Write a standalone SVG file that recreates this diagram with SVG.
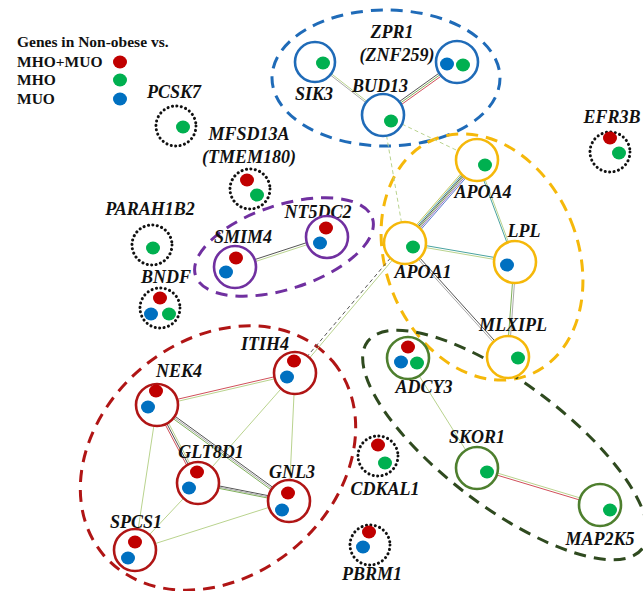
<svg xmlns="http://www.w3.org/2000/svg" width="643" height="591" viewBox="0 0 643 591">
<style>
.lbl{font-family:"Liberation Serif","Times New Roman",serif;font-weight:bold;font-style:italic;font-size:18px;fill:#111;text-anchor:middle}
.leg{font-family:"Liberation Serif","Times New Roman",serif;font-weight:bold;font-size:15.5px;fill:#111}
.r{fill:#c00000}.g{fill:#00b050}.b{fill:#0070c0}
.dot{fill:#fff;stroke:#111;stroke-width:3;stroke-dasharray:0.1 4.4;stroke-linecap:round}
.nb{fill:#fff;stroke:#1f6bb8;stroke-width:2.6}
.ny{fill:#fff;stroke:#f5b80a;stroke-width:2.6}
.np{fill:#fff;stroke:#7030a0;stroke-width:2.6}
.nr{fill:#fff;stroke:#b01515;stroke-width:2.6}
.ng{fill:#fff;stroke:#4e7f2e;stroke-width:2.6}
.cl{fill:none;stroke-width:3;stroke-dasharray:12 8}
.e{stroke-width:1;fill:none}
.k{stroke:#555}.gr{stroke:#aaa}.lg{stroke:#b9d38e}.gn{stroke:#7fb05a}.rd{stroke:#d0505a}.tl{stroke:#4aa3a0}.bl{stroke:#5b7fd0}.pu{stroke:#9a6fc0}.yl{stroke:#c8c860}
.ds{stroke-dasharray:4 3}
</style>

<g id="legend">
<text class="leg" x="17" y="47">Genes in Non-obese vs.</text>
<text class="leg" x="17" y="67">MHO+MUO</text>
<text class="leg" x="17" y="85">MHO</text>
<text class="leg" x="17" y="104">MUO</text>
<ellipse class="r" cx="120" cy="62" rx="7" ry="6.5"/>
<ellipse class="g" cx="120" cy="80" rx="7" ry="6.5"/>
<ellipse class="b" cx="120" cy="99" rx="7" ry="6.5"/>
</g>

<g id="clusters">
<ellipse class="cl" cx="386" cy="78" rx="114" ry="68" stroke="#1f6bb8"/>
<ellipse class="cl" cx="284" cy="247" rx="93" ry="42" transform="rotate(-18 284 247)" stroke="#7030a0"/>
<ellipse class="cl" cx="482" cy="257" rx="96" ry="127" transform="rotate(-22 482 257)" stroke="#f5b80a"/>
<ellipse class="cl" cx="218" cy="458" rx="150" ry="118" transform="rotate(-40 218 458)" stroke="#b01515"/>
<ellipse class="cl" cx="505" cy="445" rx="172" ry="62" transform="rotate(37 505 445)" stroke="#2f4a1f"/>
</g>

<g id="connectors">
<!-- SIK3-BUD13 -->
<line class="e gr" x1="314.5" y1="62.6" x2="382.5" y2="115.6"/>
<line class="e lg" x1="315.5" y1="61.4" x2="383.5" y2="114.4"/>
<!-- ZPR1-BUD13 -->
<line class="e k" x1="456" y1="61" x2="382" y2="114"/>
<line class="e gn" x1="457" y1="62.5" x2="383" y2="115.5"/>
<line class="e rd" x1="458" y1="64" x2="384" y2="117"/>
<!-- BUD13-APOA4, BUD13-APOA1 dashed -->
<line class="e lg ds" x1="383" y1="115" x2="477" y2="160"/>
<line class="e lg ds" x1="383" y1="115" x2="405" y2="243"/>
<!-- APOA4-APOA1 bundle -->
<line class="e bl" x1="479.5" y1="162" x2="407.5" y2="245"/>
<line class="e pu" x1="478.5" y1="161" x2="406.5" y2="244"/>
<line class="e gn" x1="477.5" y1="160.3" x2="405.5" y2="243.3"/>
<line class="e k" x1="476.5" y1="159.7" x2="404.5" y2="242.7"/>
<line class="e tl" x1="475.5" y1="159" x2="403.5" y2="242"/>
<line class="e yl" x1="474.5" y1="158" x2="402.5" y2="241"/>
<!-- APOA4-LPL -->
<line class="e tl" x1="476.3" y1="160.3" x2="514.3" y2="262.3"/>
<line class="e lg" x1="477.7" y1="159.7" x2="515.7" y2="261.7"/>
<!-- APOA1-LPL -->
<line class="e tl" x1="405" y1="242" x2="515" y2="261"/>
<line class="e lg" x1="405" y1="244" x2="515" y2="263"/>
<!-- LPL-MLXIPL -->
<line class="e gn" x1="514" y1="262" x2="507" y2="357"/>
<line class="e gr" x1="516" y1="262" x2="509" y2="357"/>
<!-- APOA1-MLXIPL -->
<line class="e k" x1="405.7" y1="242.3" x2="508.7" y2="356.3"/>
<line class="e gr" x1="404.3" y1="243.7" x2="507.3" y2="357.7"/>
<!-- APOA1-ITIH4 dashed -->
<line class="e k ds" x1="404" y1="242" x2="294" y2="372"/>
<line class="e lg" x1="406" y1="244" x2="296" y2="374"/>
<!-- SMIM4-NT5DC2 -->
<line class="e k" x1="235" y1="266" x2="327" y2="236"/>
<line class="e lg" x1="235.6" y1="268" x2="327.6" y2="238"/>
<!-- NEK4-ITIH4 -->
<line class="e rd" x1="157" y1="404" x2="295" y2="372"/>
<line class="e lg" x1="157.5" y1="406" x2="295.5" y2="374"/>
<!-- NEK4-GLT8D1 -->
<line class="e rd" x1="155.5" y1="406" x2="196.5" y2="484"/>
<line class="e k" x1="157" y1="405" x2="198" y2="483"/>
<line class="e lg" x1="158.5" y1="404" x2="199.5" y2="482"/>
<!-- NEK4-GNL3 -->
<line class="e k" x1="157.9" y1="403.8" x2="289.9" y2="499.8"/>
<line class="e gr" x1="157" y1="405" x2="289" y2="501"/>
<line class="e gn" x1="156.1" y1="406.2" x2="288.1" y2="502.2"/>
<!-- NEK4-SPCS1 -->
<line class="e lg" x1="157" y1="405" x2="135" y2="550"/>
<!-- ITIH4-GLT8D1, ITIH4-GNL3 -->
<line class="e lg" x1="295" y1="373" x2="198" y2="483"/>
<line class="e lg" x1="295" y1="373" x2="289" y2="501"/>
<!-- GLT8D1-GNL3 -->
<line class="e k" x1="198.2" y1="481.8" x2="289.2" y2="499.8"/>
<line class="e gr" x1="198" y1="483" x2="289" y2="501"/>
<line class="e gn" x1="197.8" y1="484.2" x2="288.8" y2="502.2"/>
<!-- GLT8D1-SPCS1, SPCS1-GNL3 -->
<line class="e lg" x1="198" y1="483" x2="135" y2="550"/>
<line class="e lg" x1="135" y1="550" x2="289" y2="501"/>
<!-- ADCY3-SKOR1 -->
<line class="e lg" x1="408" y1="358" x2="477" y2="468"/>
<!-- SKOR1-MAP2K5 -->
<line class="e lg" x1="477.3" y1="467" x2="600.3" y2="504"/>
<line class="e rd" x1="476.7" y1="469" x2="599.7" y2="506"/>
</g>

<g id="PCSK7"><text class="lbl" x="174" y="98">PCSK7</text><circle class="dot" cx="176" cy="126" r="20"/><ellipse class="g" cx="183" cy="127" rx="7" ry="6.5"/></g>
<g id="MFSD13A"><text class="lbl" x="249" y="140">MFSD13A</text><text class="lbl" x="249" y="163">(TMEM180)</text><circle class="dot" cx="250" cy="189" r="20"/><ellipse class="r" cx="247" cy="180" rx="7" ry="6.5"/><ellipse class="g" cx="257" cy="195" rx="7" ry="6.5"/></g>
<g id="PARAH1B2"><text class="lbl" x="150" y="215">PARAH1B2</text><circle class="dot" cx="152" cy="245" r="20"/><ellipse class="g" cx="153" cy="248" rx="7" ry="6.5"/></g>
<g id="BNDF"><text class="lbl" x="166" y="283">BNDF</text><circle class="dot" cx="160" cy="308" r="20"/><ellipse class="r" cx="160" cy="298" rx="7" ry="6.5"/><ellipse class="b" cx="151" cy="314" rx="7" ry="6.5"/><ellipse class="g" cx="169" cy="314" rx="7" ry="6.5"/></g>
<g id="EFR3B"><text class="lbl" x="612" y="123">EFR3B</text><circle class="dot" cx="610" cy="152" r="20"/><ellipse class="r" cx="610" cy="138" rx="7" ry="6.5"/><ellipse class="g" cx="619" cy="153" rx="7" ry="6.5"/></g>
<g id="CDKAL1"><text class="lbl" x="385" y="495">CDKAL1</text><circle class="dot" cx="378" cy="456" r="20"/><ellipse class="r" cx="378" cy="445" rx="7" ry="6.5"/><ellipse class="g" cx="385" cy="463" rx="7" ry="6.5"/></g>
<g id="PBRM1"><text class="lbl" x="372" y="580">PBRM1</text><circle class="dot" cx="370" cy="545" r="20"/><ellipse class="r" cx="369" cy="532" rx="7" ry="6.5"/><ellipse class="b" cx="363" cy="547" rx="7" ry="6.5"/></g>

<g id="SIK3"><circle class="nb" cx="315" cy="62" r="20"/><ellipse class="g" cx="323" cy="63" rx="7" ry="6.5"/><text class="lbl" x="314" y="100">SIK3</text></g>
<g id="ZPR1"><text class="lbl" x="392" y="38">ZPR1</text><text class="lbl" x="397" y="61">(ZNF259)</text><circle class="nb" cx="457" cy="62" r="21"/><ellipse class="b" cx="447" cy="64" rx="7" ry="6.5"/><ellipse class="g" cx="463" cy="65" rx="7" ry="6.5"/></g>
<g id="BUD13"><text class="lbl" x="380" y="92">BUD13</text><circle class="nb" cx="383" cy="115" r="21"/><ellipse class="g" cx="391" cy="121" rx="7" ry="6.5"/></g>

<g id="SMIM4"><text class="lbl" x="243" y="243">SMIM4</text><circle class="np" cx="235" cy="267" r="21"/><ellipse class="r" cx="236" cy="258" rx="7" ry="6.5"/><ellipse class="b" cx="226" cy="272" rx="7" ry="6.5"/></g>
<g id="NT5DC2"><text class="lbl" x="318" y="218">NT5DC2</text><circle class="np" cx="327" cy="237" r="21"/><ellipse class="r" cx="326" cy="228" rx="7" ry="6.5"/><ellipse class="b" cx="320" cy="243" rx="7" ry="6.5"/></g>

<g id="APOA4"><circle class="ny" cx="477" cy="160" r="21"/><ellipse class="g" cx="485" cy="165" rx="7" ry="6.5"/><text class="lbl" x="483" y="198">APOA4</text></g>
<g id="APOA1"><circle class="ny" cx="405" cy="243" r="21"/><ellipse class="g" cx="413" cy="247" rx="7" ry="6.5"/><text class="lbl" x="423" y="278">APOA1</text></g>
<g id="LPL"><text class="lbl" x="524" y="237">LPL</text><circle class="ny" cx="515" cy="262" r="21"/><ellipse class="b" cx="507" cy="265" rx="7" ry="6.5"/></g>
<g id="MLXIPL"><text class="lbl" x="513" y="331">MLXIPL</text><circle class="ny" cx="508" cy="357" r="21"/><ellipse class="g" cx="518" cy="358" rx="7" ry="6.5"/></g>

<g id="ITIH4"><text class="lbl" x="265" y="350">ITIH4</text><circle class="nr" cx="295" cy="373" r="21"/><ellipse class="r" cx="294" cy="361" rx="7" ry="6.5"/><ellipse class="b" cx="287" cy="377" rx="7" ry="6.5"/></g>
<g id="NEK4"><text class="lbl" x="179" y="377">NEK4</text><circle class="nr" cx="157" cy="405" r="21"/><ellipse class="r" cx="156" cy="391" rx="7" ry="6.5"/><ellipse class="b" cx="148" cy="407" rx="7" ry="6.5"/></g>
<g id="GLT8D1"><text class="lbl" x="211" y="458">GLT8D1</text><circle class="nr" cx="198" cy="483" r="21"/><ellipse class="r" cx="197" cy="472" rx="7" ry="6.5"/><ellipse class="b" cx="189" cy="488" rx="7" ry="6.5"/></g>
<g id="GNL3"><text class="lbl" x="292" y="478">GNL3</text><circle class="nr" cx="289" cy="501" r="21"/><ellipse class="r" cx="288" cy="493" rx="7" ry="6.5"/><ellipse class="b" cx="282" cy="510" rx="7" ry="6.5"/></g>
<g id="SPCS1"><text class="lbl" x="136" y="528">SPCS1</text><circle class="nr" cx="135" cy="550" r="21"/><ellipse class="r" cx="135" cy="542" rx="7" ry="6.5"/><ellipse class="b" cx="128" cy="558" rx="7" ry="6.5"/></g>

<g id="ADCY3"><circle class="ng" cx="408" cy="358" r="21"/><ellipse class="r" cx="408" cy="347" rx="7" ry="6.5"/><ellipse class="b" cx="401" cy="362" rx="7" ry="6.5"/><ellipse class="g" cx="417" cy="363" rx="7" ry="6.5"/><text class="lbl" x="424" y="393">ADCY3</text></g>
<g id="SKOR1"><text class="lbl" x="477" y="443">SKOR1</text><circle class="ng" cx="477" cy="468" r="21"/><ellipse class="g" cx="487" cy="472" rx="7" ry="6.5"/></g>
<g id="MAP2K5"><circle class="ng" cx="600" cy="505" r="21"/><ellipse class="g" cx="610" cy="510" rx="7" ry="6.5"/><text class="lbl" x="600" y="545">MAP2K5</text></g>
</svg>
